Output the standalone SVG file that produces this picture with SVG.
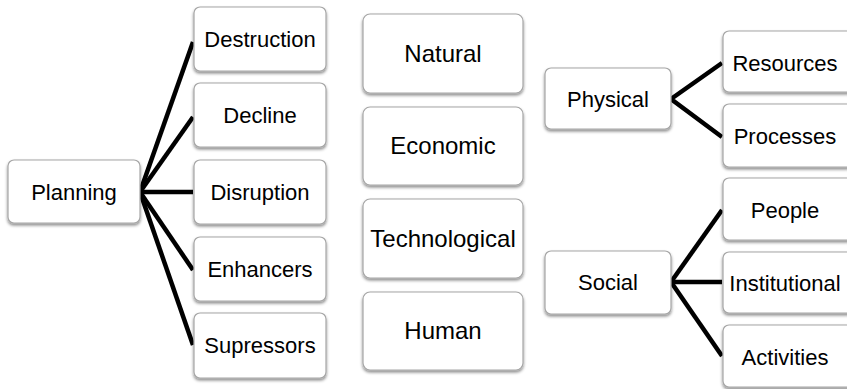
<svg xmlns="http://www.w3.org/2000/svg" width="847" height="389" viewBox="0 0 847 389">
  <defs>
    <filter id="shadow" x="-10%" y="-10%" width="120%" height="130%">
      <feDropShadow dx="0" dy="2" stdDeviation="1.5" flood-color="#000" flood-opacity="0.45"/>
    </filter>
  </defs>
  <style>
    .box { fill: #ffffff; stroke: #a6a6a6; stroke-width: 1.2; filter: url(#shadow); }
    .lbl { font-family: "Liberation Sans", Arial, sans-serif; font-size: 22px; fill: #000; text-anchor: middle; }
    .big { font-size: 24px; }
    .conn { stroke: #000; stroke-width: 4.5; fill: none; stroke-linecap: butt; stroke-linejoin: miter; }
  </style>
  <rect width="847" height="389" fill="#ffffff"/>

  <!-- connectors -->
  <g id="connectors" class="conn">
    <line x1="140" y1="192" x2="193" y2="42"/>
    <line x1="140" y1="192" x2="193" y2="117"/>
    <line x1="140" y1="192" x2="193" y2="192"/>
    <line x1="140" y1="192" x2="193" y2="270"/>
    <line x1="140" y1="192" x2="193" y2="345"/>
    <polyline points="722,63 671,99 722,137"/>
    <line x1="671" y1="282" x2="722" y2="210"/>
    <line x1="671" y1="282" x2="722" y2="282"/>
    <line x1="671" y1="282" x2="722" y2="356"/>
  </g>

  <!-- left tree -->
  <g id="planning"><rect class="box" x="8" y="160" width="132" height="63" rx="6"/><text class="lbl" x="74" y="200">Planning</text></g>
  <g id="destruction"><rect class="box" x="194" y="7" width="132" height="64" rx="6"/><text class="lbl" x="260" y="47">Destruction</text></g>
  <g id="decline"><rect class="box" x="194" y="83" width="132" height="64" rx="6"/><text class="lbl" x="260" y="123">Decline</text></g>
  <g id="disruption"><rect class="box" x="194" y="160" width="132" height="64" rx="6"/><text class="lbl" x="260" y="200">Disruption</text></g>
  <g id="enhancers"><rect class="box" x="194" y="237" width="132" height="64" rx="6"/><text class="lbl" x="260" y="277">Enhancers</text></g>
  <g id="supressors"><rect class="box" x="194" y="313" width="132" height="65" rx="6"/><text class="lbl" x="260" y="353">Supressors</text></g>

  <!-- middle column -->
  <g id="natural"><rect class="box" x="363" y="14" width="160" height="79" rx="7"/><text class="lbl big" x="443" y="62">Natural</text></g>
  <g id="economic"><rect class="box" x="363" y="107" width="160" height="78" rx="7"/><text class="lbl big" x="443" y="154">Economic</text></g>
  <g id="technological"><rect class="box" x="363" y="199" width="160" height="79" rx="7"/><text class="lbl big" x="443" y="247">Technological</text></g>
  <g id="human"><rect class="box" x="363" y="292" width="160" height="78" rx="7"/><text class="lbl big" x="443" y="339">Human</text></g>

  <!-- right trees -->
  <g id="physical"><rect class="box" x="545" y="68" width="126" height="61" rx="6"/><text class="lbl" x="608" y="107">Physical</text></g>
  <g id="resources"><rect class="box" x="723" y="31" width="130" height="61" rx="6"/><text class="lbl" x="785" y="71">Resources</text></g>
  <g id="processes"><rect class="box" x="723" y="104" width="130" height="63" rx="6"/><text class="lbl" x="785" y="144">Processes</text></g>
  <g id="social"><rect class="box" x="545" y="251" width="126" height="63" rx="6"/><text class="lbl" x="608" y="290">Social</text></g>
  <g id="people"><rect class="box" x="723" y="178" width="130" height="62" rx="6"/><text class="lbl" x="785" y="218">People</text></g>
  <g id="institutional"><rect class="box" x="723" y="252" width="130" height="61" rx="6"/><text class="lbl" x="785" y="291">Institutional</text></g>
  <g id="activities"><rect class="box" x="723" y="325" width="130" height="62" rx="6"/><text class="lbl" x="785" y="365">Activities</text></g>
</svg>
